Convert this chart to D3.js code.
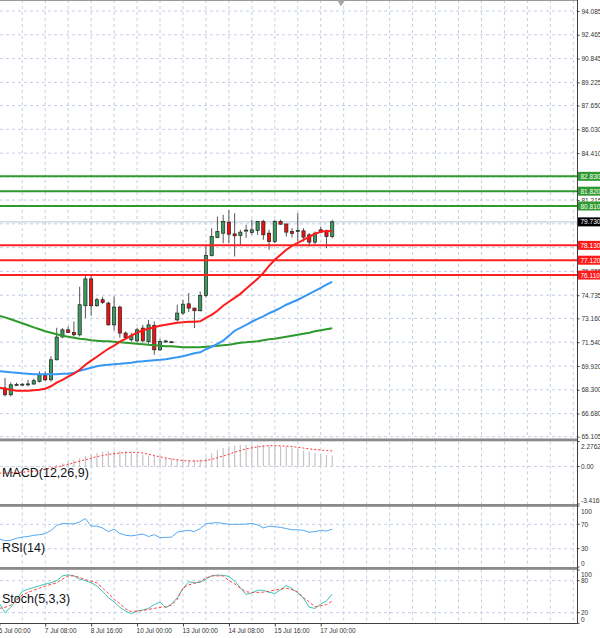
<!DOCTYPE html>
<html lang="en">
<head>
<meta charset="utf-8">
<title>H4 chart with MACD, RSI and Stochastic</title>
<script src="https://d3js.org/d3.v7.min.js"></script>
<style>
  body { margin: 0; background: #fff; }
  svg { display: block; font-family: "Liberation Sans", Arial, sans-serif; }
</style>
</head>
<body>
<script>
// ---- data (bar index 0 = 6 Jul 00:00, 4h bars) ----
const timeLabels = ["6 Jul 00:00", "7 Jul 08:00", "8 Jul 16:00", "10 Jul 00:00",
                    "13 Jul 00:00", "14 Jul 08:00", "15 Jul 16:00", "17 Jul 00:00"];
const timeLabelBars = [0, 8, 16, 24, 32, 40, 48, 56];

const priceTicks = [94.085, 92.465, 90.845, 89.225, 87.650, 86.030, 84.410, 82.790, 81.215,
                    79.595, 77.975, 76.355, 74.735, 73.160, 71.540, 69.920, 68.300, 66.680, 65.105];
// tick labels that sit fully under a level tag
const coveredTicks = [82.790, 79.595, 77.975];

// horizontal levels drawn on the chart
const resistLevels = [82.830, 81.820, 80.810];
const supportLevels = [78.130, 77.120, 76.110];
const lastPrice = 79.730;

// candles, bars 1..58
const opens  = [68.42,67.96,68.62,68.66,68.67,68.69,68.87,69.26,68.98,70.34,71.89,72.38,72.20,72.04,74.02,75.85,74.02,74.43,74.20,72.72,
                73.93,72.16,71.70,71.63,72.50,71.57,72.68,71.02,71.59,71.55,73.06,73.52,74.15,73.86,73.68,74.72,77.44,78.66,78.96,79.71,
                78.91,78.80,79.11,79.00,79.14,79.75,78.96,78.39,79.75,79.59,79.07,79.12,79.12,78.85,78.35,79.19,79.12,78.73];
const highs  = [69.10,68.80,68.78,68.76,68.98,69.05,69.55,69.55,70.57,72.52,72.50,72.61,72.95,75.31,76.06,76.06,74.56,74.63,74.29,74.65,
                74.02,72.27,72.18,72.52,72.72,73.06,72.95,71.77,71.70,71.60,74.09,74.43,74.88,73.88,74.99,78.21,79.30,80.09,80.21,80.55,
                80.32,79.19,79.53,79.87,79.80,79.87,79.19,79.87,79.87,79.59,79.30,80.32,79.30,78.96,79.07,79.41,79.19,79.87];
const lows   = [67.85,67.85,68.57,68.58,68.53,68.64,68.80,68.87,68.87,70.30,71.82,72.16,71.93,71.93,73.18,73.34,73.95,74.15,72.66,72.34,
                71.84,71.77,71.57,71.50,71.50,71.43,70.68,70.95,71.50,71.52,72.95,73.40,73.59,72.50,73.63,74.58,77.37,78.62,78.28,78.28,
                77.37,78.17,78.64,78.85,78.85,78.51,77.83,78.28,79.53,78.73,78.66,78.39,78.39,78.05,78.21,78.96,77.94,78.62];
const closes = [67.96,68.64,68.66,68.68,68.70,68.92,69.32,68.98,70.34,71.89,72.38,72.20,72.04,74.09,75.85,74.02,74.43,74.24,72.72,73.93,
                72.16,71.86,71.98,72.38,71.63,72.72,71.02,71.59,71.62,71.57,73.52,74.13,73.86,73.68,74.72,77.44,78.73,79.07,79.75,78.89,
                78.78,79.03,79.17,79.19,79.75,78.85,78.39,79.75,79.57,79.03,78.94,79.14,78.69,78.35,78.96,79.03,78.73,79.73];

// moving averages, bars 0..58
const maFast = [68.44,68.37,68.30,68.23,68.23,68.23,68.27,68.30,68.37,68.54,68.78,68.98,69.19,69.39,69.66,70.00,70.28,70.55,70.82,71.09,
                71.30,71.57,71.77,71.98,72.18,72.35,72.45,72.55,72.66,72.72,72.79,72.86,72.89,72.93,72.93,72.96,73.20,73.40,73.68,74.02,
                74.29,74.56,74.83,75.17,75.51,75.85,76.26,76.74,77.15,77.49,77.83,78.10,78.30,78.51,78.71,78.92,79.05,79.12,79.08];
const maMid  = [69.56,69.53,69.49,69.46,69.42,69.39,69.36,69.36,69.36,69.36,69.36,69.39,69.39,69.46,69.60,69.70,69.80,69.90,69.97,70.00,
                70.04,70.07,70.11,70.14,70.21,70.24,70.28,70.31,70.34,70.38,70.45,70.51,70.58,70.68,70.79,70.85,71.06,71.23,71.43,71.64,
                71.98,72.32,72.52,72.72,72.93,73.13,73.30,73.51,73.68,73.88,74.09,74.26,74.43,74.63,74.83,75.04,75.24,75.45,75.65];
const maSlow = [73.34,73.23,73.10,72.96,72.83,72.69,72.55,72.42,72.28,72.18,72.08,71.98,71.91,71.84,71.77,71.74,71.67,71.64,71.60,71.60,
                71.57,71.53,71.50,71.47,71.43,71.40,71.36,71.33,71.30,71.26,71.26,71.23,71.19,71.19,71.19,71.19,71.23,71.26,71.30,71.33,
                71.36,71.43,71.50,71.53,71.57,71.60,71.67,71.74,71.77,71.84,71.91,71.98,72.04,72.11,72.18,72.28,72.35,72.42,72.49];

// MACD(12,26,9), bars 0..58
const macdMain = [-0.25,-0.22,-0.20,-0.18,-0.15,-0.12,-0.10,-0.06,-0.02,0.05,0.15,0.30,0.45,0.60,0.75,0.95,1.10,1.25,1.35,1.40,
                  1.42,1.40,1.38,1.30,1.20,1.10,1.00,0.95,0.90,0.80,0.72,0.68,0.65,0.62,0.62,0.65,0.85,1.20,1.50,1.70,
                  1.85,1.90,1.95,1.95,1.97,1.97,1.95,1.92,1.90,1.85,1.80,1.70,1.60,1.45,1.35,1.25,1.15,1.05,1.00];
const macdSignal = [-0.60,-0.60,-0.58,-0.55,-0.52,-0.48,-0.42,-0.35,-0.25,-0.15,-0.05,0.08,0.20,0.35,0.48,0.62,0.75,0.90,1.00,1.10,
                    1.17,1.22,1.27,1.30,1.28,1.22,1.12,1.00,0.88,0.78,0.68,0.60,0.54,0.50,0.50,0.50,0.55,0.65,0.80,0.95,
                    1.12,1.30,1.45,1.60,1.70,1.78,1.85,1.90,1.90,1.88,1.85,1.82,1.75,1.68,1.60,1.55,1.50,1.45,1.42];
const macdTicks = [2.2762, 0, -3.4165];
const macdTickLabels = ["2.2762", "0.00", "-3.4165"];

// RSI(14), bars 0..58
const rsi = [46,43,44,47,49,50,52,53,54.5,60,68,71.5,71,70.5,74,79.5,67,67,64,58,
             62,55,52,51,52.5,54,50,53,48,48.5,49,57,59,60,58,63,71,72,72.7,71.5,
             70,70,70,70.5,71.5,69,64,67,66,65,63,61,61,60,57,58,60,59,62];
const rsiTicks = [100, 70, 30, 0];

// Stochastic(5,3,3), bars 0..58
const stochMain = [37.5,20,30,45,60,64,67,70.5,73.5,76,80,89,91,89,83,80,76,70,60,48,
                   40,30,23,18,23,25,28,35,40,29,36,48,65,78,76,77,83,89,90.5,90,
                   88,79,67,54,57,62,62,58,56,63,71,65,57,47,30,28,36,42,55];
const stochSignal = [28,30,34,43,53,58,62,66,70,73,76,83,89,89,86,82,79,76,66,56,
                     45,37,27,22,23,24,26,28,30,31,34,45,66,72,75,78,85,89,89,89,
                     80,74,66,59,58,58,58.5,60,62.5,64,66,63,59,48,40,31,33,35,42];
const stochTicks = [100, 80, 20, 0];

// ---- layout ----
const width = 600, height = 638;
const axisX = 577.5;
const mainPane = [0, 438.5], macdPane = [441.5, 504], rsiPane = [506.5, 567], stochPane = [569.5, 623.5];

const gridColor = "#c3cfe4";
const svg = d3.select("body").append("svg").attr("width", width).attr("height", height);

// bar index -> x
const x = d3.scaleLinear().domain([0, 100]).range([-0.7, 573.3]);
const yMain = d3.scaleLinear().domain([65.105, 94.085]).range([436.7, 11]);
const yMacd = d3.scaleLinear().domain([-3.4165, 2.2762]).range([504, 441.5]);
const yRsi = d3.scaleLinear().domain([0, 100]).range([567, 506]);
const yStoch = d3.scaleLinear().domain([0, 100]).range([623.3, 570]);

// clip paths for panes
const defs = svg.append("defs");
[["clipMain", mainPane], ["clipMacd", macdPane], ["clipRsi", rsiPane], ["clipStoch", stochPane]].forEach(([id, p]) => {
  defs.append("clipPath").attr("id", id).append("rect")
    .attr("x", 0).attr("y", p[0]).attr("width", axisX).attr("height", p[1] - p[0]);
});

// vertical grid in each pane
const vGrid = d3.range(4, 101, 4);
[mainPane, macdPane, rsiPane, stochPane].forEach(p => {
  svg.append("g").selectAll("line").data(vGrid).join("line")
    .attr("x1", d => x(d)).attr("x2", d => x(d))
    .attr("y1", p[0]).attr("y2", p[1])
    .attr("stroke", gridColor).attr("stroke-dasharray", "3,3");
});

function hGrid(values, scale) {
  svg.append("g").selectAll("line").data(values).join("line")
    .attr("x1", 0).attr("x2", axisX)
    .attr("y1", d => scale(d)).attr("y2", d => scale(d))
    .attr("stroke", gridColor).attr("stroke-dasharray", "3,3");
}
hGrid(priceTicks, yMain);
hGrid([0], yMacd);
hGrid([70, 30], yRsi);
hGrid([80, 20], yStoch);

// ---- main pane ----
const main = svg.append("g").attr("clip-path", "url(#clipMain)");

// last price line
main.append("line").attr("x1", 0).attr("x2", axisX)
  .attr("y1", yMain(lastPrice)).attr("y2", yMain(lastPrice))
  .attr("stroke", "#c8d0de").attr("stroke-width", 1.2);

// candles
const candles = opens.map((o, k) => ({ bar: k + 1, o: o, h: highs[k], l: lows[k], c: closes[k] }));
main.append("g").selectAll("line").data(candles).join("line")
  .attr("x1", d => x(d.bar)).attr("x2", d => x(d.bar))
  .attr("y1", d => yMain(d.h)).attr("y2", d => yMain(d.l))
  .attr("stroke", "#555").attr("stroke-width", 1);
main.append("g").selectAll("rect").data(candles).join("rect")
  .attr("x", d => x(d.bar) - 1.6).attr("width", 3.2)
  .attr("y", d => yMain(Math.max(d.o, d.c)))
  .attr("height", d => Math.max(1, Math.abs(yMain(d.o) - yMain(d.c))))
  .attr("fill", d => d.c >= d.o ? "#3b9b5e" : "#f01010")
  .attr("stroke", "#222").attr("stroke-width", 0.7);

// moving averages
const maLine = d3.line().x((d, i) => x(i)).y(d => yMain(d));
[[maSlow, "#2e9a2e"], [maMid, "#3897f5"], [maFast, "#ff1a1a"]].forEach(([arr, col]) => {
  main.append("path").datum(arr).attr("d", maLine)
    .attr("fill", "none").attr("stroke", col).attr("stroke-width", 2);
});

// horizontal levels
main.append("g").selectAll("line").data(resistLevels).join("line")
  .attr("x1", 0).attr("x2", axisX).attr("y1", d => yMain(d)).attr("y2", d => yMain(d))
  .attr("stroke", "#2f9a2f").attr("stroke-width", 2);
main.append("g").selectAll("line").data(supportLevels).join("line")
  .attr("x1", 0).attr("x2", axisX).attr("y1", d => yMain(d)).attr("y2", d => yMain(d))
  .attr("stroke", "#ff2020").attr("stroke-width", 2);

// ---- MACD pane ----
const macdG = svg.append("g").attr("clip-path", "url(#clipMacd)");
macdG.append("g").selectAll("line").data(macdMain).join("line")
  .attr("x1", (d, i) => x(i)).attr("x2", (d, i) => x(i))
  .attr("y1", yMacd(0)).attr("y2", d => yMacd(d))
  .attr("stroke", "#c4c4c4").attr("stroke-width", 1.2);
macdG.append("path").datum(macdSignal)
  .attr("d", d3.line().x((d, i) => x(i)).y(d => yMacd(d)))
  .attr("fill", "none").attr("stroke", "#ff3333").attr("stroke-width", 1).attr("stroke-dasharray", "2,2");

// ---- RSI pane ----
svg.append("g").attr("clip-path", "url(#clipRsi)").append("path").datum(rsi)
  .attr("d", d3.line().x((d, i) => x(i)).y(d => yRsi(d)))
  .attr("fill", "none").attr("stroke", "#55a8f2").attr("stroke-width", 1);

// ---- Stochastic pane ----
const stG = svg.append("g").attr("clip-path", "url(#clipStoch)");
stG.append("path").datum(stochMain)
  .attr("d", d3.line().x((d, i) => x(i)).y(d => yStoch(d)))
  .attr("fill", "none").attr("stroke", "#3ec3b6").attr("stroke-width", 1);
stG.append("path").datum(stochSignal)
  .attr("d", d3.line().x((d, i) => x(i)).y(d => yStoch(d)))
  .attr("fill", "none").attr("stroke", "#ff4444").attr("stroke-width", 1).attr("stroke-dasharray", "3,2");

// indicator names
[["MACD(12,26,9)", 473], ["RSI(14)", 548], ["Stoch(5,3,3)", 599]].forEach(([t, yy]) => {
  svg.append("text").attr("x", 2).attr("y", yy).attr("dominant-baseline", "central")
    .attr("font-size", 12.5).attr("fill", "#111").text(t);
});

// pane separators and frame
[mainPane[1], macdPane[1], rsiPane[1]].forEach(yy => {
  svg.append("rect").attr("x", 0).attr("y", yy).attr("width", axisX).attr("height", 2.8).attr("fill", "#8a8a8a");
});
svg.append("line").attr("x1", 0).attr("x2", axisX).attr("y1", 0.5).attr("y2", 0.5).attr("stroke", "#9a9a9a");
svg.append("line").attr("x1", axisX).attr("x2", axisX).attr("y1", 0).attr("y2", stochPane[1]).attr("stroke", "#404040");
svg.append("line").attr("x1", 0).attr("x2", axisX).attr("y1", stochPane[1]).attr("y2", stochPane[1]).attr("stroke", "#404040");

// chart shift marker
svg.append("path").attr("d", d3.symbol(d3.symbolTriangle, 22)())
  .attr("transform", "translate(341,2.5) rotate(180)").attr("fill", "#a8a8a8");

// ---- axes ----
function styleAxis(g) {
  g.select(".domain").remove();
  g.selectAll(".tick line").attr("stroke", "#404040");
  g.selectAll(".tick text").attr("font-size", 6.5).attr("fill", "#333")
    .attr("font-family", "'Liberation Sans', Arial, sans-serif");
}

const fmt3 = d3.format(".3f");
svg.append("g").attr("transform", `translate(${axisX},0)`)
  .call(d3.axisRight(yMain).tickValues(priceTicks)
    .tickFormat(d => coveredTicks.includes(d) ? "" : fmt3(d)).tickSize(2).tickPadding(2))
  .call(styleAxis);

// clamped labels for indicator panes
function paneLabels(values, labels, scale, pane) {
  const g = svg.append("g");
  g.selectAll("line").data(values).join("line")
    .attr("x1", axisX).attr("x2", axisX + 2)
    .attr("y1", d => scale(d)).attr("y2", d => scale(d)).attr("stroke", "#404040");
  g.selectAll("text").data(values).join("text")
    .attr("x", axisX + 3.5)
    .attr("y", d => Math.min(pane[1] - 3.8, Math.max(pane[0] + 5, scale(d))))
    .attr("dominant-baseline", "central")
    .attr("font-size", 6.5).attr("fill", "#333")
    .text((d, i) => labels[i]);
}
paneLabels(macdTicks, macdTickLabels, yMacd, macdPane);
paneLabels(rsiTicks, rsiTicks.map(String), yRsi, rsiPane);
paneLabels(stochTicks, stochTicks.map(String), yStoch, stochPane);

// price level tags
function tags(values, col) {
  const g = svg.append("g");
  g.selectAll("rect").data(values).join("rect")
    .attr("x", axisX + 0.5).attr("width", width - axisX)
    .attr("y", d => yMain(d) - 4.5).attr("height", 9).attr("fill", col);
  g.selectAll("text").data(values).join("text")
    .attr("x", axisX + 3).attr("y", d => yMain(d)).attr("dominant-baseline", "central")
    .attr("font-size", 6.5).attr("fill", "#fff").text(d => fmt3(d));
}
tags(resistLevels, "#2f9a2f");
tags([lastPrice], "#000");
tags(supportLevels, "#ff1a1a");

// time axis
svg.append("g").attr("transform", `translate(0,${stochPane[1]})`)
  .call(d3.axisBottom(x).tickValues(timeLabelBars).tickFormat((d, i) => timeLabels[i]).tickSize(3).tickPadding(2))
  .call(styleAxis)
  .call(g => g.selectAll(".tick text").attr("text-anchor", "start").attr("dx", -1));
</script>
</body>
</html>
